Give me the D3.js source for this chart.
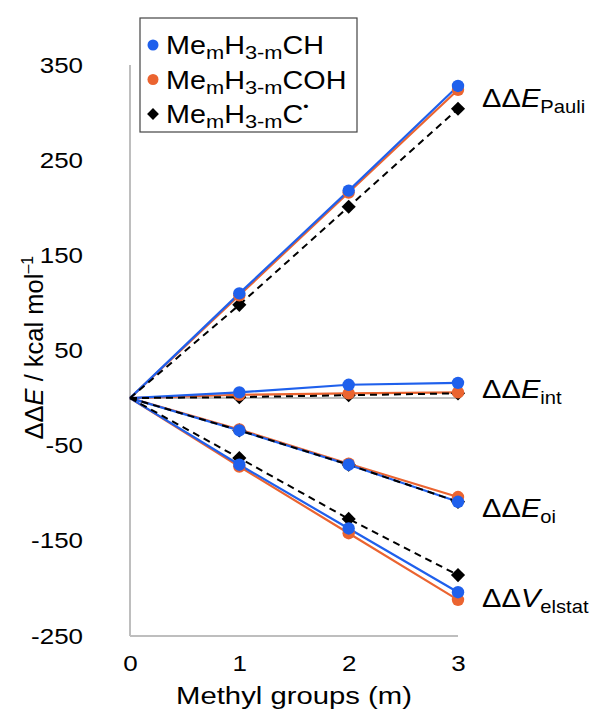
<!DOCTYPE html>
<html><head><meta charset="utf-8">
<script src="https://cdn.jsdelivr.net/npm/d3@7"></script>
<style>body{margin:0;background:#fff}svg{display:block;font-family:"Liberation Sans",Arial,Helvetica,sans-serif}</style>
</head><body>
<script>
// ---- data ----
const methylGroups = [0, 1, 2, 3];
const yTicks = [350, 250, 150, 50, -50, -150, -250];
const xTicks = [0, 1, 2, 3];
// Me_mH_3-mCH (blue)
const ch_pauli  = [0, 110, 218, 328];
const ch_int    = [0, 6, 14, 16];
const ch_oi     = [0, -34, -70, -109];
const ch_elstat = [0, -70, -137, -204];
// Me_mH_3-mCOH (orange)
const coh_pauli  = [0, 108, 216, 324];
const coh_int    = [0, 3.5, 5, 6];
const coh_oi     = [0, -33, -69, -104];
const coh_elstat = [0, -72, -142, -212];
// Me_mH_3-mC· (black)
const rad_pauli  = [0, 98, 201, 304];
const rad_int    = [0, 1, 3, 5];
const rad_oi     = [0, -34, -70, -109];
const rad_elstat = [0, -63, -127, -186];
// term labels (anchor value on y scale)
const termNames = ["Pauli", "int", "oi", "elstat"];
const termSymbols = ["E", "E", "E", "V"];
const termAnchors = [315, 10, -115, -210];

const W = 591, H = 713;
const svg = d3.select("body").append("svg").attr("width", W).attr("height", H);

const x = d3.scaleLinear().domain([0, 3]).range([130, 458]);
const y = d3.scaleLinear().domain([-250, 350]).range([636, 65]);

const blue = "#1F60EC", orange = "#EB6430", black = "#000";
const gray = "#BEBEBE";

// text helper with horizontal stretch
function stretched(parent, tx, ty, sx) {
  return parent.append("g").attr("transform", `translate(${tx},${ty}) scale(${sx},1)`).append("text");
}

// axes lines
svg.append("line").attr("x1", x(0)).attr("x2", x(0)).attr("y1", y(350)).attr("y2", y(-250))
  .attr("stroke", gray).attr("stroke-width", 2);
svg.append("line").attr("x1", x(0)).attr("x2", x(3)).attr("y1", y(-250)).attr("y2", y(-250))
  .attr("stroke", gray).attr("stroke-width", 2);
svg.append("line").attr("x1", x(0)).attr("x2", x(3)).attr("y1", y(0)).attr("y2", y(0))
  .attr("stroke", gray).attr("stroke-width", 2);

// tick labels via axes (no tick lines)
const fmt = d => String(d);
const yAxis = svg.append("g").attr("transform", `translate(${x(0) - 47},0)`)
  .call(d3.axisLeft(y).tickValues(yTicks).tickSize(0).tickPadding(0).tickFormat(fmt));
yAxis.select(".domain").remove();
yAxis.selectAll("text").attr("font-size", 22).attr("fill", "#000")
  .attr("font-family", "Liberation Sans, Arial, sans-serif").attr("transform", "scale(1.18,1)");

const xAxis = svg.append("g").attr("transform", `translate(0,${y(-250) + 19})`)
  .call(d3.axisBottom(x).tickValues(xTicks).tickSize(0).tickPadding(0).tickFormat(fmt));
xAxis.select(".domain").remove();
xAxis.selectAll("text").attr("font-size", 22).attr("fill", "#000")
  .attr("font-family", "Liberation Sans, Arial, sans-serif").attr("transform", "scale(1.18,1)");

// axis titles
stretched(svg, x(1.5), 704, 1.22).attr("text-anchor", "middle")
  .attr("font-size", 24).text("Methyl groups (m)");

const yt = svg.append("text").attr("transform", `translate(43,${y(53)}) rotate(-90)`)
  .attr("text-anchor", "middle").attr("font-size", 25.5);
yt.append("tspan").text("ΔΔ");
yt.append("tspan").attr("font-style", "italic").text("E");
yt.append("tspan").text(" / kcal mol");
yt.append("tspan").attr("dy", -10).attr("font-size", 16).text("–1");

// series
const series = [
  {color: orange, dash: null, shape: "circle", data: [coh_pauli, coh_int, coh_oi, coh_elstat]},
  {color: blue, dash: null, shape: "circle", data: [ch_pauli, ch_int, ch_oi, ch_elstat]},
  {color: black, dash: "7,5", shape: "diamond", data: [rad_pauli, rad_int, rad_oi, rad_elstat]},
];
const line = d3.line().x((d, i) => x(methylGroups[i])).y(d => y(d));

const linesG = svg.append("g");
series.forEach(s => {
  s.data.forEach(arr => {
    linesG.append("path").attr("d", line(arr)).attr("fill", "none")
      .attr("stroke", s.color).attr("stroke-width", s.dash ? 2 : 2.2)
      .attr("stroke-dasharray", s.dash);
  });
});

const diamond = d3.symbol().type(d3.symbolSquare).size(100);
const markOrder = [series[2], series[0], series[1]];
const marksG = svg.append("g");
markOrder.forEach(s => {
  s.data.forEach(arr => {
    arr.forEach((v, i) => {
      if (i === 0) return;
      if (s.shape === "circle") {
        marksG.append("circle").attr("cx", x(methylGroups[i])).attr("cy", y(v)).attr("r", 6.2).attr("fill", s.color);
      } else {
        marksG.append("path").attr("d", diamond())
          .attr("transform", `translate(${x(methylGroups[i])},${y(v)}) rotate(45)`).attr("fill", s.color);
      }
    });
  });
});

// term labels
termNames.forEach((t, i) => {
  const tx = stretched(svg, 482, y(termAnchors[i]) + 9, 1.12).attr("font-size", 26);
  tx.append("tspan").text("ΔΔ");
  tx.append("tspan").attr("font-style", "italic").text(termSymbols[i]);
  tx.append("tspan").attr("dy", 6).attr("font-size", 18).text(t);
});

// legend
const lg = svg.append("g");
lg.append("rect").attr("x", 140).attr("y", 18).attr("width", 217).attr("height", 114)
  .attr("fill", "#fff").attr("stroke", "#444").attr("stroke-width", 1.2);
const legendItems = [
  {color: blue, shape: "circle", tail: "CH"},
  {color: orange, shape: "circle", tail: "COH"},
  {color: black, shape: "diamond", tail: "C"},
];
legendItems.forEach((it, i) => {
  const cy = 45 + i * 34.5;
  if (it.shape === "circle") lg.append("circle").attr("cx", 153).attr("cy", cy).attr("r", 5.5).attr("fill", it.color);
  else lg.append("path").attr("d", d3.symbol().type(d3.symbolSquare).size(70)())
    .attr("transform", `translate(153,${cy}) rotate(45)`).attr("fill", it.color);
  const t = stretched(lg, 166, cy + 9, 1.15).attr("font-size", 25);
  t.append("tspan").text("Me");
  t.append("tspan").attr("dy", 5).attr("font-size", 19).text("m");
  t.append("tspan").attr("dy", -5).text("H");
  t.append("tspan").attr("dy", 5).attr("font-size", 19).text("3-m");
  t.append("tspan").attr("dy", -5).text(it.tail);
  if (i === 2) t.append("tspan").attr("dy", -12).attr("font-size", 13).text("•");
});
</script>
</body></html>
